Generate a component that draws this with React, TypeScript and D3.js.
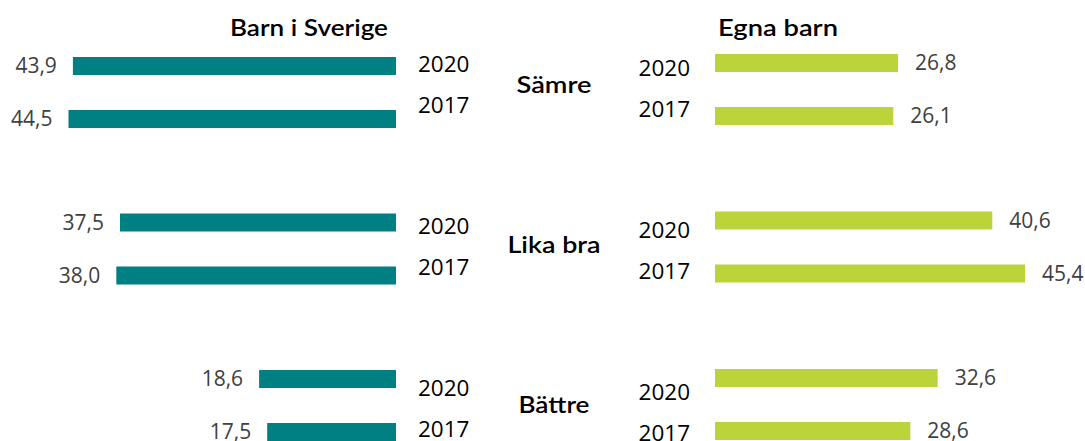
import React from "react";
import * as d3 from "d3";

const categories = ["Sämre", "Lika bra", "Bättre"];
const years = ["2020", "2017"];
const barnISverige2020 = [43.9, 37.5, 18.6];
const barnISverige2017 = [44.5, 38.0, 17.5];
const egnaBarn2020 = [26.8, 40.6, 32.6];
const egnaBarn2017 = [26.1, 45.4, 28.6];
const panelTitles = ["Barn i Sverige", "Egna barn"];

const TEAL = "#008083";
const LIME = "#BCD339";
const NUM_FONT = "'Open Sans', 'Liberation Sans', sans-serif";
const TITLE_FONT = "Lato, 'Noto Sans', sans-serif";

const fmt = (v: number) => d3.format(".1f")(v).replace(".", ",");

export default function App() {
  const W = 1085;
  const H = 441;

  const xLeft = d3.scaleLinear().domain([0, 50]).range([396, 396 - 7.36 * 50]);
  const xRight = d3.scaleLinear().domain([0, 50]).range([715, 715 + 6.83 * 50]);

  const yLeft = d3.scaleBand<string>().domain(categories).range([57, 57 + 3 * 156.5]);
  const yRight = d3.scaleBand<string>().domain(categories).range([54, 54 + 3 * 157.5]);
  const yInner = d3.scaleBand<string>().domain(years).range([0, 71]).paddingInner(35 / 53);

  const yrLeft = d3.scalePoint<string>().domain(categories).range([72, 396]);
  const yrRight = d3.scalePoint<string>().domain(categories).range([76, 400]);
  const yrInner = d3.scalePoint<string>().domain(years).range([0, 40.5]);
  const catY = d3.scalePoint<string>().domain(categories).range([93, 413]);
  const catWidths = [75, 93, 71];

  const leftData = [barnISverige2020, barnISverige2017];
  const rightData = [egnaBarn2020, egnaBarn2017];

  const bh = yInner.bandwidth();

  return (
    <svg
      width={W}
      height={H}
      style={{ position: "absolute", left: 0, top: 0, background: "#fff" }}
    >
      <rect x={0} y={0} width={W} height={H} fill="#fff" />
      {/* titles */}
      <text x={230} y={36} fontFamily={TITLE_FONT} fontSize={23} fontWeight={600} fill="#000" textLength={158} lengthAdjust="spacingAndGlyphs">
        {panelTitles[0]}
      </text>
      <text x={718} y={36} fontFamily={TITLE_FONT} fontSize={23} fontWeight={600} fill="#000" textLength={120} lengthAdjust="spacingAndGlyphs">
        {panelTitles[1]}
      </text>

      {/* category labels */}
      {categories.map((c, i) => (
        <text
          key={c}
          x={554 - catWidths[i] / 2}
          y={catY(c)}
          fontFamily={TITLE_FONT}
          fontSize={23}
          fontWeight={600}
          fill="#000"
          textLength={catWidths[i]}
          lengthAdjust="spacingAndGlyphs"
        >
          {c}
        </text>
      ))}

      {/* left panel */}
      {categories.map((c, ci) =>
        years.map((yr, yi) => {
          const v = leftData[yi][ci];
          const y0 = (yLeft(c) as number) + (yInner(yr) as number);
          const x0 = xLeft(v);
          return (
            <g key={`l-${c}-${yr}`}>
              <rect x={x0} y={y0} width={xLeft(0) - x0} height={bh} fill={TEAL} />
              <text
                x={x0 - 16}
                y={y0 + bh / 2}
                dy="0.35em"
                textAnchor="end"
                fontFamily={NUM_FONT}
                fontSize={21}
                fill="#404040"
              >
                {fmt(v)}
              </text>
              <text
                x={418}
                y={(yrLeft(c) as number) + (yrInner(yr) as number)}
                fontFamily={NUM_FONT}
                fontSize={22.5}
                fill="#000"
              >
                {yr}
              </text>
            </g>
          );
        })
      )}

      {/* right panel */}
      {categories.map((c, ci) =>
        years.map((yr, yi) => {
          const v = rightData[yi][ci];
          const y0 = (yRight(c) as number) + (yInner(yr) as number);
          const x1 = xRight(v);
          return (
            <g key={`r-${c}-${yr}`}>
              <rect x={xRight(0)} y={y0} width={x1 - xRight(0)} height={bh} fill={LIME} />
              <text
                x={x1 + 17}
                y={y0 + bh / 2}
                dy="0.35em"
                textAnchor="start"
                fontFamily={NUM_FONT}
                fontSize={21}
                fill="#404040"
              >
                {fmt(v)}
              </text>
              <text
                x={690}
                y={(yrRight(c) as number) + (yrInner(yr) as number)}
                textAnchor="end"
                fontFamily={NUM_FONT}
                fontSize={22.5}
                fill="#000"
              >
                {yr}
              </text>
            </g>
          );
        })
      )}
    </svg>
  );
}
